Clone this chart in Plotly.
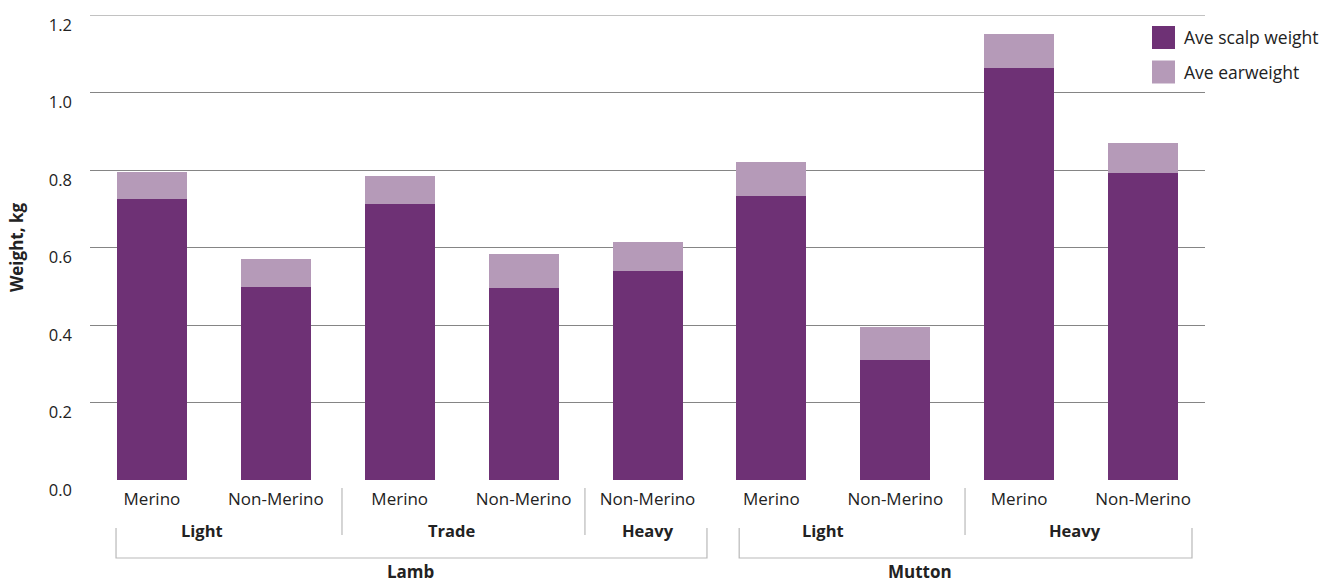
import plotly.graph_objects as go

# Sheep category hierarchy: class > weight grade > breed type
classes = ["Lamb", "Lamb", "Lamb", "Lamb", "Lamb",
           "Mutton", "Mutton", "Mutton", "Mutton"]
grades = ["Light", "Light", "Trade", "Trade", "Heavy",
          "Light", "Light", "Heavy", "Heavy"]
breeds = ["Merino", "Non-Merino", "Merino", "Non-Merino", "Non-Merino",
          "Merino", "Non-Merino", "Merino", "Non-Merino"]

# Average weights in kg
scalp_weight = [0.725, 0.497, 0.712, 0.495, 0.539, 0.733, 0.309, 1.064, 0.792]
total_weight = [0.795, 0.570, 0.784, 0.583, 0.614, 0.820, 0.394, 1.151, 0.870]
ear_weight = [round(t - s, 3) for t, s in zip(total_weight, scalp_weight)]

series_names = ["Ave scalp weight", "Ave earweight"]
series_colors = ["#6E3175", "#B59AB8"]

y_ticks = [0.0, 0.2, 0.4, 0.6, 0.8, 1.0, 1.2]

FONT = "Open Sans"
TXT = "#222222"
RULE = "#b9b9b9"

W, H = 1325, 583
M_L, M_R, M_T, M_B = 90, 120, 15, 103
plot_h = H - M_T - M_B
plot_w = W - M_L - M_R


def py(px):
    """Convert a pixel row below/above the plot into paper y."""
    return (H - M_B - px) / plot_h


def pxx(px):
    """Convert a pixel column into paper x."""
    return (px - M_L) / plot_w


x_idx = list(range(len(breeds)))

fig = go.Figure()
fig.add_bar(x=x_idx, y=scalp_weight, name=series_names[0],
            marker=dict(color=series_colors[0], line=dict(width=0)),
            showlegend=False)
fig.add_bar(x=x_idx, y=ear_weight, name=series_names[1],
            marker=dict(color=series_colors[1], line=dict(width=0)),
            showlegend=False)

shapes = []
annotations = []

# Top rule at 1.2
shapes.append(dict(type="line", xref="paper", yref="y", x0=0, x1=1,
                   y0=y_ticks[-1], y1=y_ticks[-1],
                   line=dict(color="#858585", width=1), layer="below"))

# Weight grade labels and separators
grade_groups = []
for i, (c, g) in enumerate(zip(classes, grades)):
    if grade_groups and grade_groups[-1][0] == (c, g):
        grade_groups[-1][1].append(i)
    else:
        grade_groups.append(((c, g), [i]))

label_shift = [-0.1, -0.08, 0.0, -0.08, -0.05]
for k, ((c, g), idx) in enumerate(grade_groups):
    cx = sum(idx) / len(idx) + label_shift[k]
    annotations.append(dict(x=cx, y=py(530), xref="x", yref="paper",
                            text="<b>" + g + "</b>", showarrow=False,
                            font=dict(family=FONT, size=16.5, color=TXT),
                            xanchor="center", yanchor="middle"))

separator_x = [1.534, 3.495, 6.563]
for sx in separator_x:
    shapes.append(dict(type="line", xref="x", yref="paper",
                       x0=sx, x1=sx, y0=py(488), y1=py(535),
                       line=dict(color=RULE, width=1.2)))

# Class brackets and labels
brackets = {"Lamb": (-0.29, 4.48, 2.09), "Mutton": (4.74, 8.395, 6.2)}
for name, (bx0, bx1, lx) in brackets.items():
    shapes.append(dict(type="path", xref="x", yref="paper",
                       path=f"M {bx0} {py(528)} L {bx0} {py(558)} "
                            f"L {bx1} {py(558)} L {bx1} {py(528)}",
                       line=dict(color=RULE, width=1.2)))
    annotations.append(dict(x=lx, y=py(571), xref="x", yref="paper",
                            text="<b>" + name + "</b>", showarrow=False,
                            borderpad=0,
                            font=dict(family=FONT, size=17, color=TXT),
                            xanchor="center", yanchor="middle"))

# Legend drawn as swatches with text
legend_rows = [37.5, 72]
for name, color, cy in zip(series_names, series_colors, legend_rows):
    shapes.append(dict(type="rect", xref="paper", yref="paper",
                       x0=pxx(1152), x1=pxx(1175),
                       y0=py(cy + 11.5), y1=py(cy - 11.5),
                       fillcolor=color, line=dict(width=0)))
    annotations.append(dict(x=pxx(1182), y=py(cy),
                            xref="paper", yref="paper", text=name,
                            showarrow=False, xanchor="left", yanchor="middle",
                            font=dict(family=FONT, size=17.5, color=TXT)))

fig.update_layout(
    width=W, height=H,
    margin=dict(l=M_L, r=M_R, t=M_T, b=M_B, pad=0, autoexpand=False),
    barmode="stack",
    bargap=0.435,
    plot_bgcolor="white",
    paper_bgcolor="white",
    font=dict(family=FONT, size=15, color=TXT),
    shapes=shapes,
    annotations=annotations,
    xaxis=dict(
        range=[-0.5, len(breeds) - 0.5],
        tickmode="array", tickvals=x_idx, ticktext=breeds,
        showgrid=False, zeroline=False, showline=False,
        ticks="", ticklabelstandoff=7, automargin=False,
        tickfont=dict(family=FONT, size=17, color=TXT),
    ),
    yaxis=dict(
        range=[0, 1.2],
        tickmode="array", tickvals=y_ticks,
        ticktext=[f"{v:.1f}" for v in y_ticks],
        showgrid=True, gridcolor="#858585", gridwidth=1,
        zeroline=False, showline=False, ticks="",
        ticklabelstandoff=17, ticklabelshift=10, automargin=False,
        tickfont=dict(family=FONT, size=16.5, color=TXT),
        title=dict(text="<b>Weight, kg</b>", standoff=20,
                   font=dict(family=FONT, size=17, color=TXT)),
    ),
)

fig.write_html("out.html")
